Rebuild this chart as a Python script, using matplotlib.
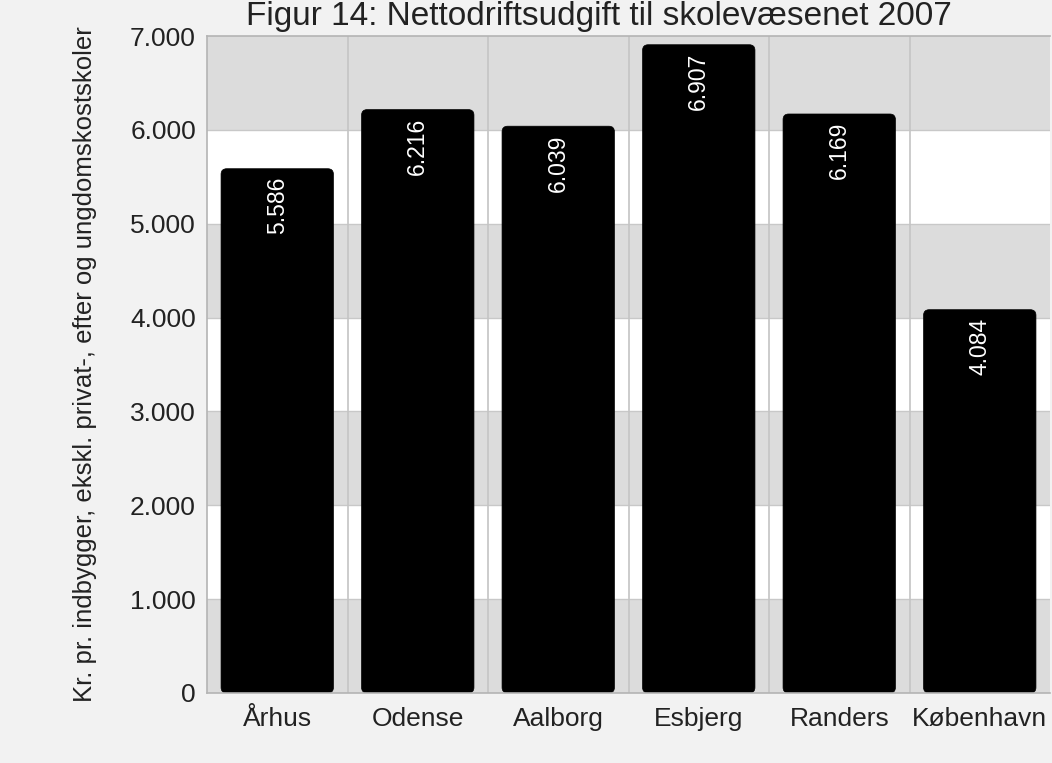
import matplotlib.pyplot as plt
from matplotlib.patches import FancyBboxPatch
from matplotlib.ticker import FuncFormatter

plt.rcParams['font.family'] = ['Liberation Sans', 'DejaVu Sans']

# data
byer = ['Århus', 'Odense', 'Aalborg', 'Esbjerg', 'Randers', 'København']
udgift = [5586, 6216, 6039, 6907, 6169, 4084]
titel = 'Figur 14: Nettodriftsudgift til skolevæsenet 2007'
ylabel = 'Kr. pr. indbygger, ekskl. privat-, efter og ungdomskostskoler'

fig = plt.figure(figsize=(10.52, 7.63), dpi=100)
fig.patch.set_facecolor('#f2f2f2')
ax = fig.add_axes([207 / 1052, 1 - 693 / 763, 843 / 1052, 657 / 763])
ax.set_facecolor('white')

# baand i baggrunden
for lo in range(0, 7000, 2000):
    ax.axhspan(lo, lo + 1000, color='#dcdcdc', zorder=0, lw=0)
for y in range(1000, 7000, 1000):
    ax.axhline(y, color='#c8c8c8', lw=1, zorder=0.5)
for x in range(1, len(byer)):
    ax.axvline(x - 0.5, color='#c4c4c4', lw=1.2, zorder=0.5)

bars = ax.bar(range(len(byer)), udgift, width=0.8, color='black', zorder=2)

# afrundede hjoerner
asp = (1000 / 93.9) * 140.5
for b in bars:
    b.set_visible(False)
    p = FancyBboxPatch((b.get_x(), b.get_y()), b.get_width(), b.get_height(),
                       boxstyle='round,pad=0,rounding_size=0.04',
                       mutation_aspect=asp, fc='black', ec='black', lw=0.5, zorder=2)
    ax.add_patch(p)

for i, v in enumerate(udgift):
    ax.annotate(f'{v:,}'.replace(',', '.'), (i, v), xytext=(0, -8),
                textcoords='offset pixels', rotation=90, ha='center', va='top',
                color='white', fontsize=16.5, zorder=3)

ax.set_xlim(-0.5, len(byer) - 0.5)
ax.set_ylim(0, 7000)
ax.set_xticks(range(len(byer)))
ax.set_xticklabels(byer)
ax.set_yticks(range(0, 7001, 1000))
ax.yaxis.set_major_formatter(FuncFormatter(lambda v, p: f'{int(v):,}'.replace(',', '.')))
ax.tick_params(axis='both', length=0, labelsize=19, colors='#222222')
ax.tick_params(axis='x', pad=10)
ax.tick_params(axis='y', pad=8)
for s in ax.spines.values():
    s.set_color('#b4b4b4')
    s.set_linewidth(1.2)
ax.spines['right'].set_visible(False)

ax.set_ylabel(ylabel, fontsize=18.5, color='#222222', labelpad=24)

fig.text(599 / 1052, 1 - 16 / 763, titel, ha='center', va='center',
         fontsize=24, color='#222222')

fig.savefig('out.png', dpi=100, facecolor=fig.get_facecolor())
